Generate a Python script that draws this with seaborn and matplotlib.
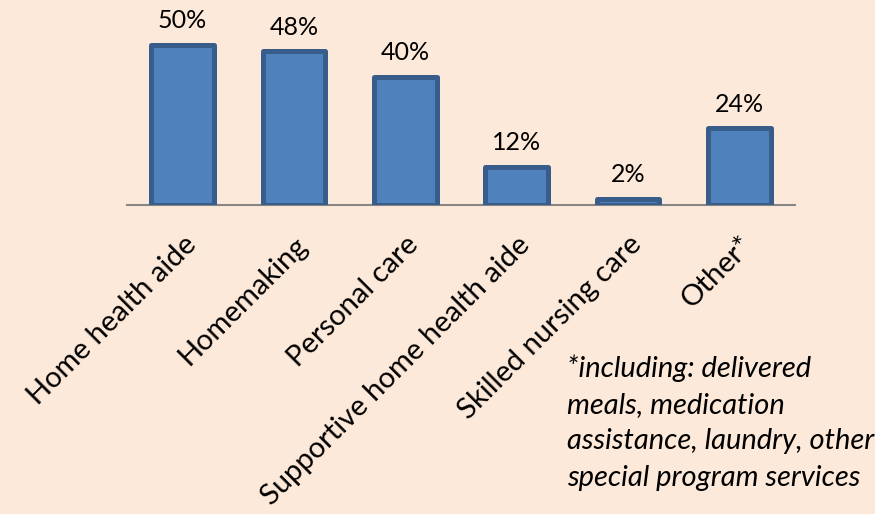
import matplotlib
matplotlib.use("Agg")
import pandas as pd
import seaborn as sns
import matplotlib.pyplot as plt

# Dados do gráfico
categories = [
    "Home health aide",
    "Homemaking",
    "Personal care",
    "Supportive home health aide",
    "Skilled nursing care",
    "Other*",
]
values = [50, 48, 40, 12, 2, 24]
note = "*including: delivered\nmeals, medication\nassistance, laundry, other\nspecial program services"

df = pd.DataFrame({"service": categories, "pct": values})

bg = "#FDE9D9"
sns.set_style("white")
plt.rcParams["font.family"] = ["Lato", "DejaVu Sans"]

fig = plt.figure(figsize=(8.75, 5.14), dpi=100, facecolor=bg)
ax = fig.add_axes([127 / 875, 1 - 205 / 514, (795 - 127) / 875, 205 / 514])
ax.set_facecolor(bg)

sns.barplot(data=df, x="service", y="pct", ax=ax, color="#4F81BD",
            width=0.56, saturation=1, edgecolor="#385D8A", linewidth=3.6)
for p in ax.patches:
    p.set_joinstyle("round")
    p.set_zorder(3)

# rótulos de porcentagem acima das barras
for i, v in enumerate(values):
    ax.annotate(f"{v}%", (i, v), xytext=(0, 9), textcoords="offset points",
                ha="center", va="bottom", fontsize=18, color="black")

ax.set_ylim(0, 205 / 3.2)
ax.set_xlim(-0.5, len(categories) - 0.5)
ax.set_yticks([])
ax.set_xlabel("")
ax.set_ylabel("")
for side in ["top", "right", "left"]:
    ax.spines[side].set_visible(False)
ax.spines["bottom"].set_color("#868686")
ax.spines["bottom"].set_linewidth(1.5)
ax.spines["bottom"].set_zorder(2)

ax.tick_params(axis="x", length=0, pad=19)
plt.setp(ax.get_xticklabels(), rotation=45, ha="right", rotation_mode="anchor",
         fontsize=21, color="black")

fig.text(567 / 875, 1 - 354 / 514, note, ha="left", va="top", fontsize=21,
         style="italic", linespacing=1.5, color="black")

fig.savefig("out.png", dpi=100, facecolor=bg)
